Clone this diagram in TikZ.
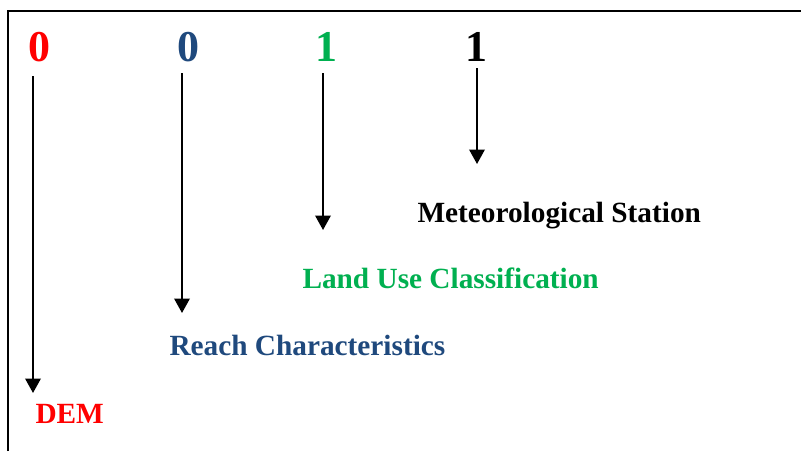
\documentclass[tikz,border=0pt]{standalone}
\usepackage{fontspec}
\setmainfont{Liberation Serif}
\usetikzlibrary{arrows.meta}
\definecolor{demred}{RGB}{255,0,0}
\definecolor{reachblue}{RGB}{31,73,125}
\definecolor{landgreen}{RGB}{0,176,80}
\begin{document}
\begin{tikzpicture}[x=1pt,y=-1pt,
  digit/.style={font=\fontsize{44}{44}\selectfont\bfseries, inner sep=0pt, outer sep=0pt, anchor=base},
  layertext/.style={font=\fontsize{29.3}{29.3}\selectfont\bfseries, inner sep=0pt, outer sep=0pt, anchor=base west},
  pointer/.style={line width=2pt, -{Triangle[width=15.5pt,length=14.5pt]}},
  frameline/.style={line width=2pt}]
\useasboundingbox (0,0) rectangle (801,451);
\fill[white] (0,0) rectangle (801,451);

% open frame along the top and left edges
\draw[frameline] (8,451) -- (8,10.5) -- (801,10.5);

% code digits
\node[digit, text=demred]    (d1) at (39,61.5)  {0};
\node[digit, text=reachblue] (d2) at (188,61.5) {0};
\node[digit, text=landgreen] (d3) at (326,61.5) {1};
\node[digit, text=black]     (d4) at (476,61.5) {1};

% layer names
\node[layertext, text=demred]    (t1) at (35.5,423)  {DEM};
\node[layertext, text=reachblue] (t2) at (169.5,355) {Reach Characteristics};
\node[layertext, text=landgreen] (t3) at (302.5,288) {Land Use Classification};
\node[layertext, text=black]     (t4) at (417.5,222) {Meteorological Station};

% arrow ends
\coordinate (a1s) at (33,76);   \coordinate (a1e) at (33,393);
\coordinate (a2s) at (182,73);  \coordinate (a2e) at (182,313);
\coordinate (a3s) at (323,73);  \coordinate (a3e) at (323,230);
\coordinate (a4s) at (477,68);  \coordinate (a4e) at (477,164);

\draw[pointer] (a1s) -- (a1e);
\draw[pointer] (a2s) -- (a2e);
\draw[pointer] (a3s) -- (a3e);
\draw[pointer] (a4s) -- (a4e);
\end{tikzpicture}
\end{document}
